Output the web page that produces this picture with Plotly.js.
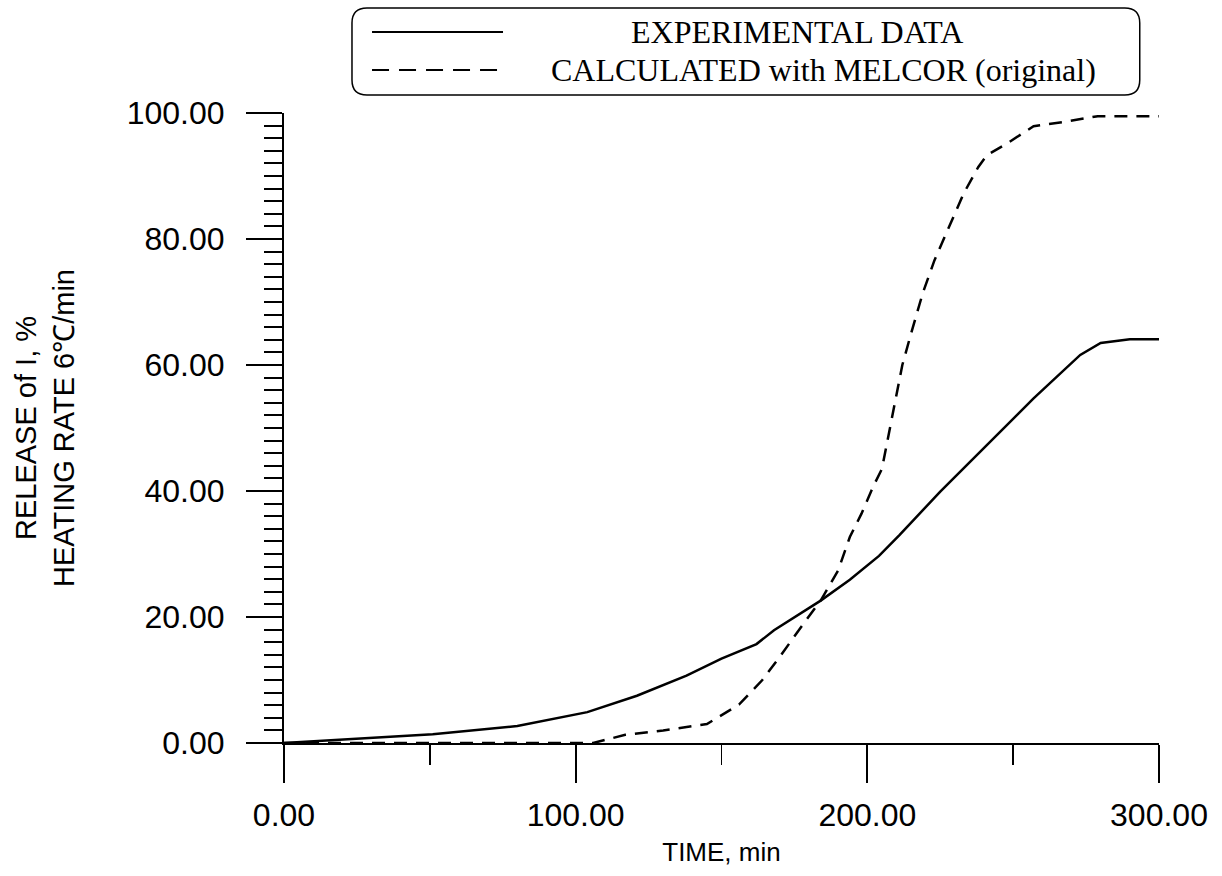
<!DOCTYPE html>
<html>
<head>
<meta charset="utf-8">
<script src="https://cdn.plot.ly/plotly-3.0.1.min.js"></script>
<style>html,body{margin:0;padding:0;background:#fff;}#chart{width:1222px;height:876px;}</style>
</head>
<body>
<div id="chart"></div>
<script>
// Experimental data (solid)
const expTime = [0, 29, 51, 80, 104, 121, 138, 150, 162, 168, 175, 184, 194, 204, 211, 225, 257, 273, 280, 290, 300];
const expRelease = [0, 0.75, 1.4, 2.7, 4.9, 7.5, 10.7, 13.4, 15.7, 17.9, 20.0, 22.6, 25.9, 29.7, 33.0, 39.9, 54.7, 61.6, 63.5, 64.1, 64.1];
// MELCOR calculation (dashed)
const calcTime = [0, 106, 117, 130, 145, 156, 164, 170, 179, 184, 190, 194, 198, 202, 205, 210, 212, 215, 219, 223, 228, 233, 238, 241, 248, 257, 269, 279, 300];
const calcRelease = [0, 0, 1.3, 2.0, 3.0, 6.1, 10, 13.7, 19.5, 22.6, 27.4, 32.7, 36.4, 40.7, 43.5, 55, 60, 65, 71.4, 76.6, 82, 87.2, 91.4, 93.3, 95.2, 97.9, 98.7, 99.5, 99.5];
const seriesNames = ["EXPERIMENTAL DATA", "CALCULATED with MELCOR (original)"];
const xTitle = "TIME, min";
const yTitle = "RELEASE of I, %<br>HEATING RATE 6\u2103/min";

const DASH = "13px,9px";
const traces = [
  {x: expTime, y: expRelease, name: seriesNames[0], mode: "lines", showlegend: false,
   line: {color: "#000", width: 2.5}},
  {x: calcTime, y: calcRelease, name: seriesNames[1], mode: "lines", showlegend: false,
   line: {color: "#000", width: 2.5, dash: DASH}}
];

// legend box (paper coords)
const bx0 = 0.0777, bx1 = 0.978, byb = 1.0286, byt = 1.1667, rx = 0.0171, ry = 0.0238;
const boxPath = `M ${bx0+rx},${byt} L ${bx1-rx},${byt} Q ${bx1},${byt} ${bx1},${byt-ry} L ${bx1},${byb+ry} Q ${bx1},${byb} ${bx1-rx},${byb} L ${bx0+rx},${byb} Q ${bx0},${byb} ${bx0},${byb+ry} L ${bx0},${byt-ry} Q ${bx0},${byt} ${bx0+rx},${byt} Z`;

const layout = {
  width: 1222, height: 876,
  margin: {l: 284, r: 63, t: 113, b: 133},
  paper_bgcolor: "#fff", plot_bgcolor: "#fff",
  font: {family: "Liberation Sans, Arial, sans-serif", color: "#000"},
  xaxis: {
    range: [0, 300], dtick: 100, tick0: 0, tickformat: ".2f",
    showgrid: false, zeroline: false, showline: true, linecolor: "#000", linewidth: 2,
    ticks: "outside", ticklen: 38, tickwidth: 2, tickcolor: "#000",
    ticklabelstandoff: 5,
    tickfont: {size: 32, family: "Liberation Sans, Arial, sans-serif"},
    minor: {dtick: 50, ticks: "outside", ticklen: 20, tickwidth: 1.5, tickcolor: "#000", showgrid: false},
    title: {text: xTitle, font: {size: 26}, standoff: 10}
  },
  yaxis: {
    range: [0, 100], dtick: 20, tick0: 0, tickformat: ".2f",
    showgrid: false, zeroline: false, showline: true, linecolor: "#000", linewidth: 2,
    ticks: "outside", ticklen: 36, tickwidth: 2, tickcolor: "#000",
    ticklabelstandoff: 15,
    tickfont: {size: 32, family: "Liberation Sans, Arial, sans-serif"},
    minor: {dtick: 2, ticks: "outside", ticklen: 18, tickwidth: 2, tickcolor: "#000", showgrid: false},
    title: {text: yTitle, font: {size: 29}, standoff: 44}
  },
  shapes: [
    {type: "path", xref: "paper", yref: "paper", path: boxPath, line: {color: "#000", width: 1.5}},
    {type: "line", xref: "paper", yref: "paper", x0: 0.1006, x1: 0.2503, y0: 1.1286, y1: 1.1286, line: {color: "#000", width: 2}},
    {type: "line", xref: "paper", yref: "paper", x0: 0.1006, x1: 0.2503, y0: 1.0683, y1: 1.0683, line: {color: "#000", width: 2, dash: "17px,10px"}}
  ],
  annotations: [
    {xref: "paper", yref: "paper", x: 0.5863, y: 1.1286, text: seriesNames[0], showarrow: false,
     xanchor: "center", yanchor: "middle", font: {family: "Liberation Serif, Times New Roman, serif", size: 32}},
    {xref: "paper", yref: "paper", x: 0.6171, y: 1.0683, text: seriesNames[1], showarrow: false,
     xanchor: "center", yanchor: "middle", font: {family: "Liberation Serif, Times New Roman, serif", size: 32}}
  ]
};

Plotly.newPlot("chart", traces, layout, {displayModeBar: false, staticPlot: true});
</script>
</body>
</html>
